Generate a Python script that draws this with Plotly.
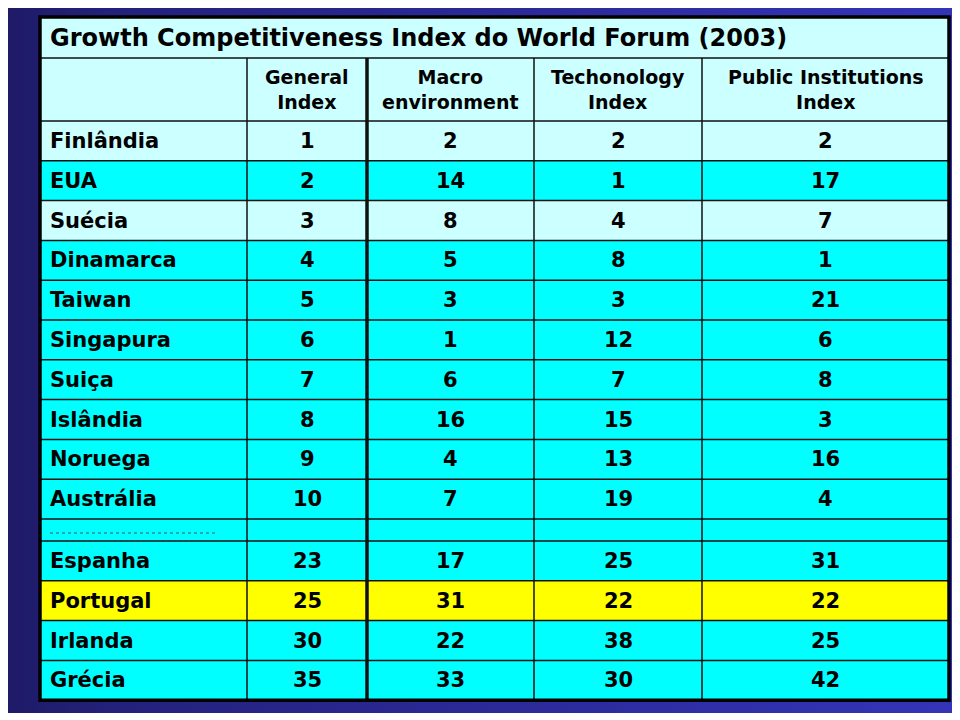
import plotly.graph_objects as go

# dados da tabela
titulo = "Growth Competitiveness Index do World Forum (2003)"
colunas = ["General<br>Index", "Macro<br>environment", "Techonology<br>Index",
           "Public Institutions<br>Index"]
paises = ["Finlândia", "EUA", "Suécia", "Dinamarca", "Taiwan", "Singapura", "Suiça",
          "Islândia", "Noruega", "Austrália", "Espanha", "Portugal", "Irlanda", "Grécia"]
general = [1, 2, 3, 4, 5, 6, 7, 8, 9, 10, 23, 25, 30, 35]
macro = [2, 14, 8, 5, 3, 1, 6, 16, 4, 7, 17, 31, 22, 33]
tech = [2, 1, 4, 8, 3, 12, 7, 15, 13, 19, 25, 22, 38, 30]
public = [2, 17, 7, 1, 21, 6, 8, 3, 16, 4, 31, 22, 25, 42]

# estilo / medidas (em pixels da janela)
bordas_x = [40, 247, 367, 534, 702, 949]
topo = 17
alt_titulo = 41
alt_cab = 63
alt_linha = 39.8
alt_sep = 22
recuo = 8           # recuo do texto à esquerda
corte = 10          # linha pontilhada depois da Austrália
claros = ["Finlândia", "Suécia"]
destaque = ["Portugal"]
margem_body = 8     # a página html tem margem de 8px no body

cores = {
    'claro': '#CCFFFF',
    'ciano': '#00FFFF',
    'amarelo': '#FFFF00',
    'linha': '#101010',
}
fonte = "DejaVu Sans"

# montamos a lista de linhas da tabela com a altura de cada uma
linhas = [("titulo", alt_titulo, cores['claro']), ("cab", alt_cab, cores['claro'])]
for i, p in enumerate(paises):
    if i == corte:
        linhas.append(("sep", alt_sep, cores['ciano']))
    if p in destaque:
        cor = cores['amarelo']
    elif p in claros:
        cor = cores['claro']
    else:
        cor = cores['ciano']
    linhas.append((p, alt_linha, cor))

ys = [topo]
for _, h, _ in linhas:
    ys.append(ys[-1] + h)

fig = go.Figure()

# fundo azul em degradê
fig.add_trace(go.Scatter(x=[0, 954, 954, 0, 0], y=[3, 3, 713, 713, 3],
                         mode="lines", line=dict(width=0), fill="toself",
                         fillgradient=dict(type="horizontal",
                                           colorscale=[[0, "#1e1a66"], [0.12, "#24217c"],
                                                       [1, "#3434b8"]]),
                         hoverinfo="skip", showlegend=False))

formas = []
# preenchimento das linhas
for k, (nome, h, cor) in enumerate(linhas):
    formas.append(dict(type="rect", x0=bordas_x[0], x1=bordas_x[-1], y0=ys[k], y1=ys[k + 1],
                       fillcolor=cor, line=dict(width=0), layer="above"))
# linhas horizontais
for y in ys[1:-1]:
    formas.append(dict(type="line", x0=bordas_x[0], x1=bordas_x[-1], y0=y, y1=y,
                       line=dict(color=cores['linha'], width=1.5)))
# linhas verticais (a segunda é mais grossa)
for j, x in enumerate(bordas_x[1:-1]):
    formas.append(dict(type="line", x0=x, x1=x, y0=ys[1], y1=ys[-1],
                       line=dict(color=cores['linha'], width=3.5 if j == 1 else 1.5)))
# borda externa
formas.append(dict(type="rect", x0=bordas_x[0], x1=bordas_x[-1], y0=ys[0], y1=ys[-1],
                   line=dict(color="black", width=3.5)))

notas = []
# título
notas.append(dict(x=bordas_x[0] + recuo, y=(ys[0] + ys[1]) / 2, text=titulo, xanchor="left",
                  font=dict(size=24, weight="bold")))
# cabeçalho
centros = [(bordas_x[j] + bordas_x[j + 1]) / 2 for j in range(1, 5)]
for cx, c in zip(centros, colunas):
    notas.append(dict(x=cx, y=(ys[1] + ys[2]) / 2, text=c, align="center",
                      font=dict(size=19, weight="bold")))

valores = [general, macro, tech, public]
k = 2
for i, p in enumerate(paises):
    if i == corte:
        ymid = (ys[k] + ys[k + 1]) / 2
        formas.append(dict(type="line", x0=bordas_x[0] + 10, x1=215, y0=ymid + 3, y1=ymid + 3,
                           line=dict(color="#555555", width=1, dash="dot")))
        k += 1
    ymid = (ys[k] + ys[k + 1]) / 2
    notas.append(dict(x=bordas_x[0] + recuo, y=ymid, text=p, xanchor="left",
                      font=dict(size=21, weight="bold")))
    for cx, serie in zip(centros, valores):
        notas.append(dict(x=cx, y=ymid, text=str(serie[i]), font=dict(size=21, weight="bold")))
    k += 1

for n in notas:
    n.update(xref="x", yref="y", showarrow=False, yanchor="middle")
    n.setdefault("xanchor", "center")
    n["font"].update(family=fonte, color="black")

fig.update_layout(width=960 - margem_body, height=720 - margem_body,
                  margin=dict(l=0, r=0, t=0, b=0),
                  paper_bgcolor="white", plot_bgcolor="white",
                  xaxis=dict(range=[margem_body, 960], visible=False, fixedrange=True),
                  yaxis=dict(range=[720, margem_body], visible=False, fixedrange=True),
                  shapes=formas, annotations=notas, showlegend=False)

fig.write_html("out.html")
